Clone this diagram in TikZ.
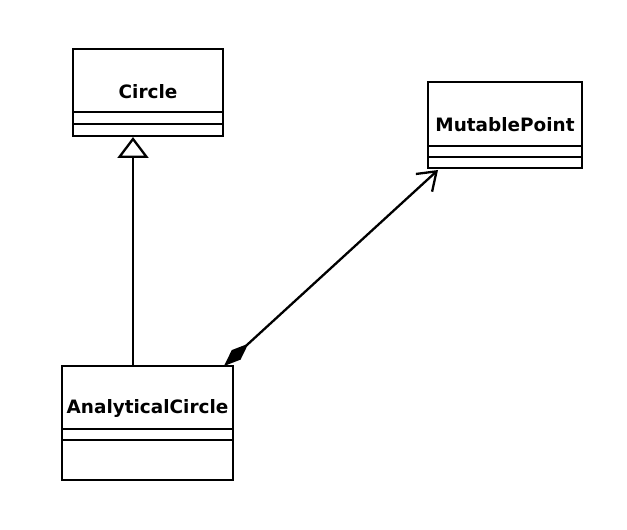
\documentclass[tikz,border=0pt]{standalone}
\usepackage{fontspec}
\setmainfont{DejaVu Sans}
\usetikzlibrary{arrows.meta}
\tikzset{
  boxline/.style={line width=2.5bp, line join=miter},
  cname/.style={font=\fontsize{18.5}{21}\selectfont\bfseries, inner sep=0pt},
  conn/.style={line width=2.3bp},
}
\begin{document}
\begin{tikzpicture}[x=1bp,y=-1bp]
\useasboundingbox (0,0) rectangle (627,530);
% Circle
\draw[boxline] (73,49) rectangle (223,136);
\draw[boxline] (73,112) -- (223,112);
\draw[boxline] (73,124) -- (223,124);
\node[cname] (circle) at (148,92) {Circle};
% MutablePoint
\draw[boxline] (428,82) rectangle (582,168);
\draw[boxline] (428,146) -- (582,146);
\draw[boxline] (428,157) -- (582,157);
\node[cname] (mp) at (505,125) {MutablePoint};
% AnalyticalCircle
\draw[boxline] (62,366) rectangle (233,480);
\draw[boxline] (62,429) -- (233,429);
\draw[boxline] (62,440) -- (233,440);
\node[cname] (ac) at (147.5,408) {AnalyticalCircle};
% connector end points
\coordinate (acTop) at (133,366);
\coordinate (circleBot) at (133,137);
\coordinate (acCorner) at (224,366);
\coordinate (mpCorner) at (438,170);
% generalization
\draw[conn, -{Triangle[open, width=31bp, length=21bp, line width=2.3bp]}] (acTop) -- (circleBot);
% composition
\draw[conn, {Diamond[width=13bp, length=33bp]}-{Straight Barb[width=24bp, length=17bp, line width=2.3bp]}] (acCorner) -- (mpCorner);
\end{tikzpicture}
\end{document}
